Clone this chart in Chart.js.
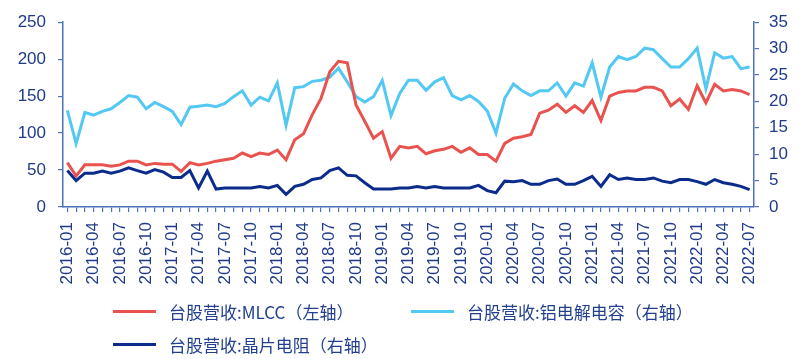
<!DOCTYPE html>
<html>
<head>
<meta charset="utf-8">
<script src="https://cdn.jsdelivr.net/npm/chart.js@4"></script>
<style>
  html, body { margin: 0; padding: 0; background: #ffffff; }
  #wrap { position: relative; width: 800px; height: 359px; overflow: hidden; }
  #c { position: absolute; left: 0; top: 0; }
  .lg { position: absolute; display: flex; align-items: center; font-family: "Noto Sans CJK SC", "Noto Sans", sans-serif; font-size: 17px; color: #22408f; white-space: nowrap; line-height: 1; }
  .lg span.ln { display: inline-block; width: 43px; height: 3px; margin-right: 13px; }
</style>
</head>
<body>
<div id="wrap">
  <canvas id="c" width="800" height="359"></canvas>
  <div class="lg" id="lg0" style="left:113px; top:303px;"><span class="ln"></span><span class="tx"></span></div>
  <div class="lg" id="lg1" style="left:411px; top:303px;"><span class="ln"></span><span class="tx"></span></div>
  <div class="lg" id="lg2" style="left:113px; top:336px;"><span class="ln"></span><span class="tx"></span></div>
</div>
<script>
// ---- Data ----
const months = [];
for (let y = 2016; y <= 2022; y++) {
  for (let m = 1; m <= 12; m++) {
    if (y === 2022 && m > 7) break;
    months.push(y + '-' + String(m).padStart(2, '0'));
  }
}
const seriesNames = [
  '台股营收:MLCC（左轴）',
  '台股营收:铝电解电容（右轴）',
  '台股营收:晶片电阻（右轴）'
];
const mlcc = [60,42,57,57,57,55,57,62,62,57,
              59,58,58,48,60,57,59,62,64,66,
              73,68,73,71,77,64,91,99,125,147,
              183,197,195,138,116,93,102,66,82,80,
              82,72,76,78,82,74,80,71,71,62,
              86,93,95,98,127,131,139,128,137,128,
              144,117,150,155,157,157,162,162,157,137,
              146,132,164,141,166,157,159,157,152];
const aluminium = [18.3,12.0,17.9,17.4,18.1,18.6,19.8,21.1,20.8,18.6,
                   19.8,19.0,18.1,15.6,18.9,19.1,19.3,19.0,19.6,20.9,
                   22.0,19.3,20.8,20.1,23.5,15.5,22.6,22.8,23.8,24.0,
                   24.6,26.3,23.7,20.9,19.9,20.9,24.0,17.3,21.5,24.0,
                   24.0,22.1,23.7,24.5,21.1,20.3,21.1,20.0,18.2,14.0,
                   20.6,23.3,22.0,21.1,22.0,22.0,23.5,21.0,23.5,22.9,
                   27.3,20.8,26.5,28.5,27.9,28.5,30.1,29.8,28.1,26.5,
                   26.5,28.1,30.1,22.4,29.2,28.2,28.5,26.2,26.5];
const resistor = [6.9,5.0,6.4,6.4,6.8,6.4,6.8,7.4,6.9,6.4,
                  7.1,6.6,5.6,5.6,6.9,3.6,6.8,3.4,3.6,3.6,
                  3.6,3.6,3.9,3.6,4.1,2.4,3.9,4.3,5.2,5.5,
                  6.9,7.4,6.0,5.9,4.6,3.4,3.4,3.4,3.6,3.6,
                  3.9,3.6,3.9,3.6,3.6,3.6,3.6,4.1,3.1,2.7,
                  4.9,4.8,5.0,4.3,4.3,5.0,5.3,4.3,4.3,5.0,
                  5.8,3.9,6.1,5.2,5.5,5.2,5.2,5.5,4.9,4.6,
                  5.2,5.2,4.8,4.3,5.2,4.6,4.3,3.9,3.3];
const leftTicks = [0, 50, 100, 150, 200, 250];
const rightTicks = [0, 5, 10, 15, 20, 25, 30, 35];

// ---- Styles ----
const colors = ['#e8524f', '#52c8f2', '#0c2c8c'];
const axisColor = '#4f72bd';
const textColor = '#1f3a8a';

// legend (HTML, real text)
seriesNames.forEach((n, i) => {
  const el = document.getElementById('lg' + i);
  el.querySelector('.ln').style.background = colors[i];
  el.querySelector('.tx').textContent = n;
});

const tickFont = { family: 'Arial, "Liberation Sans", sans-serif', size: 17 };

new Chart(document.getElementById('c'), {
  type: 'line',
  data: {
    labels: months,
    datasets: [
      { label: seriesNames[0], data: mlcc, yAxisID: 'y', borderColor: colors[0], backgroundColor: colors[0], borderWidth: 3, pointRadius: 0, tension: 0 },
      { label: seriesNames[1], data: aluminium, yAxisID: 'y2', borderColor: colors[1], backgroundColor: colors[1], borderWidth: 3, pointRadius: 0, tension: 0 },
      { label: seriesNames[2], data: resistor, yAxisID: 'y2', borderColor: colors[2], backgroundColor: colors[2], borderWidth: 3, pointRadius: 0, tension: 0 }
    ]
  },
  options: {
    responsive: false,
    animation: false,
    layout: { padding: { top: 20, left: 0, right: 0, bottom: 0 } },
    plugins: { legend: { display: false }, tooltip: { enabled: false } },
    scales: {
      x: {
        offset: true,
        border: { color: axisColor, width: 1.5 },
        grid: { drawOnChartArea: false, drawTicks: true, tickLength: 5, color: axisColor, lineWidth: 1.2 },
        ticks: {
          autoSkip: false, maxRotation: 90, minRotation: 90, padding: 10,
          color: textColor, font: tickFont,
          callback: function (v, i) { return i % 3 === 0 ? months[i] : ''; }
        },
        afterFit: function (s) { s.height = 152; }
      },
      y: {
        position: 'left', min: 0, max: 250,
        afterBuildTicks: function (s) { s.ticks = leftTicks.map(v => ({ value: v })); },
        border: { color: axisColor, width: 1.5 },
        grid: { drawOnChartArea: false, drawTicks: true, tickLength: 5, color: axisColor, lineWidth: 1.2 },
        ticks: { color: textColor, font: tickFont, padding: 12 },
        afterFit: function (s) { s.width = 63; }
      },
      y2: {
        position: 'right', min: 0, max: 35,
        afterBuildTicks: function (s) { s.ticks = rightTicks.map(v => ({ value: v })); },
        border: { color: axisColor, width: 1.5 },
        grid: { drawOnChartArea: false, drawTicks: true, tickLength: 5, color: axisColor, lineWidth: 1.2 },
        ticks: { color: textColor, font: tickFont, padding: 10 },
        afterFit: function (s) { s.width = 46; }
      }
    }
  }
});
</script>
</body>
</html>
